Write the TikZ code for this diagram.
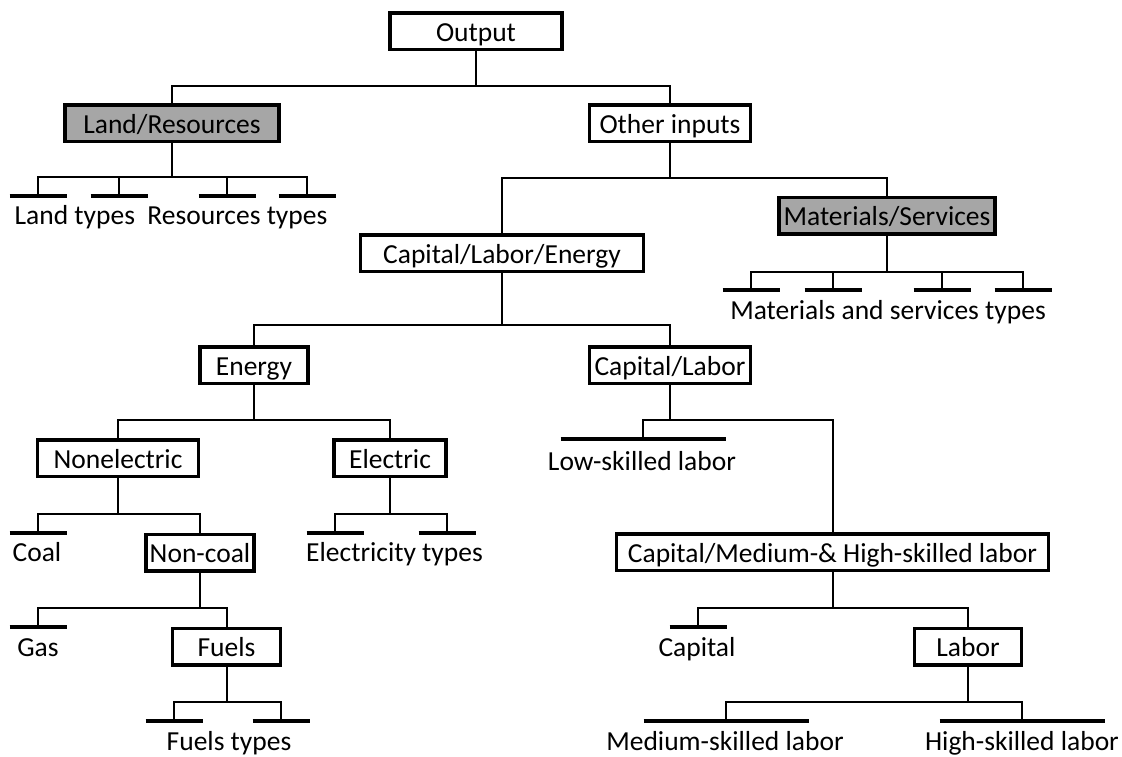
\documentclass[tikz,border=0pt]{standalone}
\usepackage{fontspec}
\setmainfont{Carlito}
\usepackage{tikz}

\tikzset{
  box/.style={draw, line width=3.5pt, minimum height=36.5pt, inner sep=0pt,
    text height=20pt, text depth=0pt, font=\fontsize{27.5}{32}\selectfont},
  shaded/.style={box, fill=black!35},
  leaf/.style={inner sep=0pt, anchor=base, font=\fontsize{27.5}{32}\selectfont},
  link/.style={line width=2pt, line cap=rect},
  bar/.style={line width=4pt},
}

\begin{document}
\begin{tikzpicture}[x=1pt, y=-1pt]
  \useasboundingbox (0,0) rectangle (1122,756);

  % Boxes
  \node[box, minimum width=172] (out) at (476,31) {Output};
  \node[shaded, minimum width=214] (land) at (172,123) {Land/Resources};
  \node[box, minimum width=161] (other) at (670,123) {Other inputs};
  \node[shaded, minimum width=216] (mat) at (887,215.5) {Materials/Services};
  \node[box, minimum width=283] (cle) at (502,253) {Capital/Labor/Energy};
  \node[box, minimum width=108] (energy) at (254,365) {Energy};
  \node[box, minimum width=161] (caplab) at (670,365) {Capital/Labor};
  \node[box, minimum width=161] (nonel) at (118,458) {Nonelectric};
  \node[box, minimum width=112] (elec) at (390,458) {Electric};
  \node[box, minimum width=108] (noncoal) at (200,552.5) {Non-coal};
  \node[box, minimum width=432] (capmed) at (832.5,552) {Capital/Medium-\& High-skilled labor};
  \node[box, minimum width=108] (fuels) at (226.5,646.5) {Fuels};
  \node[box, minimum width=107] (labor) at (968,646.5) {Labor};

  % Leaf bars
  \foreach \n/\x/\y/\w in {lt1/38/196/28.5, lt2/119/196/28.5, lt3/227/196/28.5, lt4/307/196/28.5,
      mt1/751/290/28.5, mt2/833/290/28.5, mt3/942/290/28.5, mt4/1023/290/28.5,
      coal/38/533/28.5, et1/335/533/28.5, et2/447/533/28.5,
      gas/38/627/28.5, ft1/174/721/28.5, ft2/281/721/28.5,
      low/643/439/82.5, cap/698/627/28.5, med/726/721/82.5, high/1022/721/82.5}{
    \coordinate (\n) at (\x,\y);
    \draw[bar] ([xshift=-\w pt]\n) -- ([xshift=\w pt]\n);
  }

  % Leaf labels
  \node[leaf] (landtxt) at (171,224) {Land types\ \ Resources types};
  \node[leaf] (mattxt) at (888,319) {Materials and services types};
  \node[leaf] (coaltxt) at (37,561.5) {Coal};
  \node[leaf] (electxt) at (394.5,561.5) {Electricity types};
  \node[leaf] (gastxt) at (38,656) {Gas};
  \node[leaf] (fueltxt) at (229,750) {Fuels types};
  \node[leaf] (lowtxt) at (642,470) {Low-skilled labor};
  \node[leaf] (captxt) at (697,656) {Capital};
  \node[leaf] (medtxt) at (725,750) {Medium-skilled labor};
  \node[leaf] (hightxt) at (1022,750) {High-skilled labor};

  % Tree connectors
  \draw[link] (out.south) -- (out.south |- 0,86);
  \draw[link] (land.north) |- (other.north |- 0,86) -- (other.north);

  \draw[link] (land.south) -- (land.south |- 0,177);
  \draw[link] (lt1) |- (lt4 |- 0,177) -- (lt4);
  \foreach \c in {lt2,lt3} \draw[link] (\c) -- (\c |- 0,177);

  \draw[link] (other.south) -- (other.south |- 0,178);
  \draw[link] (cle.north) |- (mat.north |- 0,178) -- (mat.north);

  \draw[link] (mat.south) -- (mat.south |- 0,272);
  \draw[link] (mt1) |- (mt4 |- 0,272) -- (mt4);
  \foreach \c in {mt2,mt3} \draw[link] (\c) -- (\c |- 0,272);

  \draw[link] (cle.south) -- (cle.south |- 0,325);
  \draw[link] (energy.north) |- (caplab.north |- 0,325) -- (caplab.north);

  \draw[link] (energy.south) -- (energy.south |- 0,420);
  \draw[link] (nonel.north) |- (elec.north |- 0,420) -- (elec.north);

  \draw[link] (caplab.south) -- (caplab.south |- 0,420);
  \draw[link] (low) |- (capmed.north |- 0,420) -- (capmed.north);

  \draw[link] (nonel.south) -- (nonel.south |- 0,514);
  \draw[link] (coal) |- (noncoal.north |- 0,514) -- (noncoal.north);

  \draw[link] (elec.south) -- (elec.south |- 0,514);
  \draw[link] (et1) |- (et2 |- 0,514) -- (et2);

  \draw[link] (noncoal.south) -- (noncoal.south |- 0,608);
  \draw[link] (gas) |- (fuels.north |- 0,608) -- (fuels.north);

  \draw[link] (capmed.south) -- (capmed.south |- 0,608);
  \draw[link] (cap) |- (labor.north |- 0,608) -- (labor.north);

  \draw[link] (fuels.south) -- (fuels.south |- 0,702);
  \draw[link] (ft1) |- (ft2 |- 0,702) -- (ft2);

  \draw[link] (labor.south) -- (labor.south |- 0,702);
  \draw[link] (med) |- (high |- 0,702) -- (high);
\end{tikzpicture}
\end{document}
